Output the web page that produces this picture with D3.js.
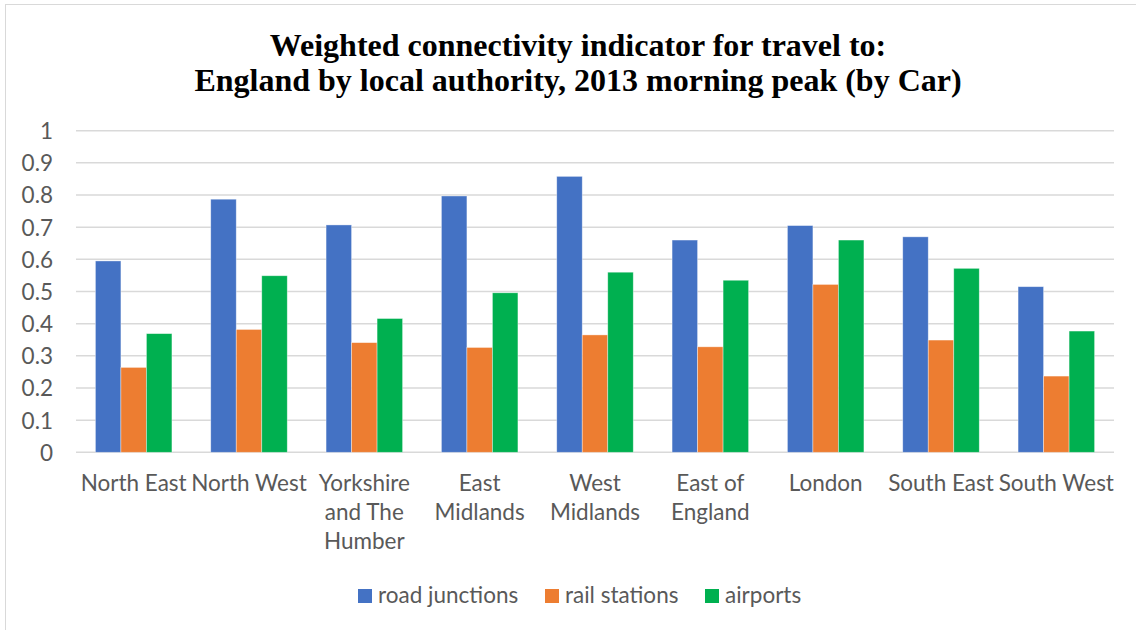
<!DOCTYPE html>
<html>
<head>
<meta charset="utf-8">
<script src="https://cdn.jsdelivr.net/npm/d3@7"></script>
<style>
  html, body { margin: 0; padding: 0; background: #fff; }
  svg { display: block; }
</style>
</head>
<body>
<svg id="chart" width="1136" height="630"></svg>
<script>
const categories = ["North East", "North West", "Yorkshire and The Humber", "East Midlands", "West Midlands", "East of England", "London", "South East", "South West"];
const categoryLines = [["North East"], ["North West"], ["Yorkshire", "and The", "Humber"], ["East", "Midlands"], ["West", "Midlands"], ["East of", "England"], ["London"], ["South East"], ["South West"]];
const seriesNames = ["road junctions", "rail stations", "airports"];
const roadJunctions = [0.595, 0.787, 0.707, 0.797, 0.858, 0.660, 0.705, 0.670, 0.515];
const railStations  = [0.264, 0.382, 0.341, 0.326, 0.365, 0.328, 0.522, 0.349, 0.237];
const airports      = [0.369, 0.549, 0.416, 0.496, 0.560, 0.535, 0.660, 0.572, 0.377];
const yTicks = [0, 0.1, 0.2, 0.3, 0.4, 0.5, 0.6, 0.7, 0.8, 0.9, 1];
const yTickLabels = ["0", "0.1", "0.2", "0.3", "0.4", "0.5", "0.6", "0.7", "0.8", "0.9", "1"];
const colors = ["#4472C4", "#ED7D31", "#00B050"];
const titleLines = ["Weighted connectivity indicator for travel to:", "England by local authority, 2013 morning peak (by Car)"];

const seriesValues = [roadJunctions, railStations, airports];

const svg = d3.select("#chart");
const labelFont = "Lato, 'Open Sans', sans-serif";
const textColor = "#595959";
const labelSize = 22.5;

// chart border
svg.append("rect").attr("x", 5.5).attr("y", 4.5).attr("width", 1140).attr("height", 640)
  .attr("fill", "none").attr("stroke", "#d9d9d9").attr("stroke-width", 1);

// title
svg.append("g").selectAll("text").data(titleLines).join("text")
  .attr("x", 578).attr("y", (d, i) => 56 + i * 35)
  .attr("text-anchor", "middle")
  .attr("font-family", "'Liberation Serif', 'Times New Roman', serif")
  .attr("font-weight", "bold")
  .attr("font-size", 32)
  .attr("fill", "#000")
  .text(d => d);

const plot = { left: 76, right: 1114, top: 130.7, bottom: 452.3 };

const x = d3.scaleBand().domain(categories).range([plot.left, plot.right])
  .paddingInner(0.3365).paddingOuter(0.3365 / 2);
const xSub = d3.scaleBand().domain(seriesNames).range([0, x.bandwidth()]).padding(0);
const y = d3.scaleLinear().domain([0, 1]).range([plot.bottom, plot.top]);

// gridlines
svg.append("g").selectAll("line").data(yTicks).join("line")
  .attr("x1", plot.left).attr("x2", plot.right)
  .attr("y1", d => y(d)).attr("y2", d => y(d))
  .attr("stroke", "#d9d9d9").attr("stroke-width", 1.5);

// y axis labels
const yAxis = d3.axisLeft(y).tickValues(yTicks).tickSize(0).tickPadding(0)
  .tickFormat((d, i) => yTickLabels[i]);
const yg = svg.append("g").attr("transform", `translate(${53},0)`).call(yAxis);
yg.select(".domain").remove();
yg.selectAll("text").attr("font-family", labelFont).attr("font-size", labelSize)
  .attr("fill", textColor).attr("dy", "0.35em");

// bars
const groups = svg.append("g").selectAll("g").data(categories).join("g")
  .attr("transform", d => `translate(${x(d)},0)`);
groups.selectAll("rect").data((d, ci) => seriesNames.map((s, si) => ({ s, si, v: seriesValues[si][ci] })))
  .join("rect")
  .attr("x", d => xSub(d.s))
  .attr("width", xSub.bandwidth())
  .attr("y", d => y(d.v))
  .attr("height", d => y(0) - y(d.v))
  .attr("fill", d => colors[d.si])
  .attr("stroke", "rgba(255,255,255,0.5)").attr("stroke-width", 0.75);

// x labels
const xl = svg.append("g").selectAll("text").data(categories).join("text")
  .attr("text-anchor", "middle")
  .attr("font-family", labelFont).attr("font-size", labelSize).attr("fill", textColor);
xl.each(function (d, i) {
  const t = d3.select(this);
  categoryLines[i].forEach((line, li) => {
    t.append("tspan").attr("x", x(d) + x.bandwidth() / 2).attr("y", 491 + li * 29).text(line);
  });
});

// legend
const legendItems = [
  { name: seriesNames[0], sx: 358 },
  { name: seriesNames[1], sx: 545 },
  { name: seriesNames[2], sx: 705 }
];
const lg = svg.append("g").selectAll("g").data(legendItems).join("g");
lg.append("rect").attr("x", d => d.sx).attr("y", 589).attr("width", 14).attr("height", 14)
  .attr("fill", (d, i) => colors[i]);
lg.append("text").attr("x", d => d.sx + 20).attr("y", 602.5)
  .attr("font-family", labelFont).attr("font-size", labelSize).attr("fill", textColor)
  .text(d => d.name);
</script>
</body>
</html>
